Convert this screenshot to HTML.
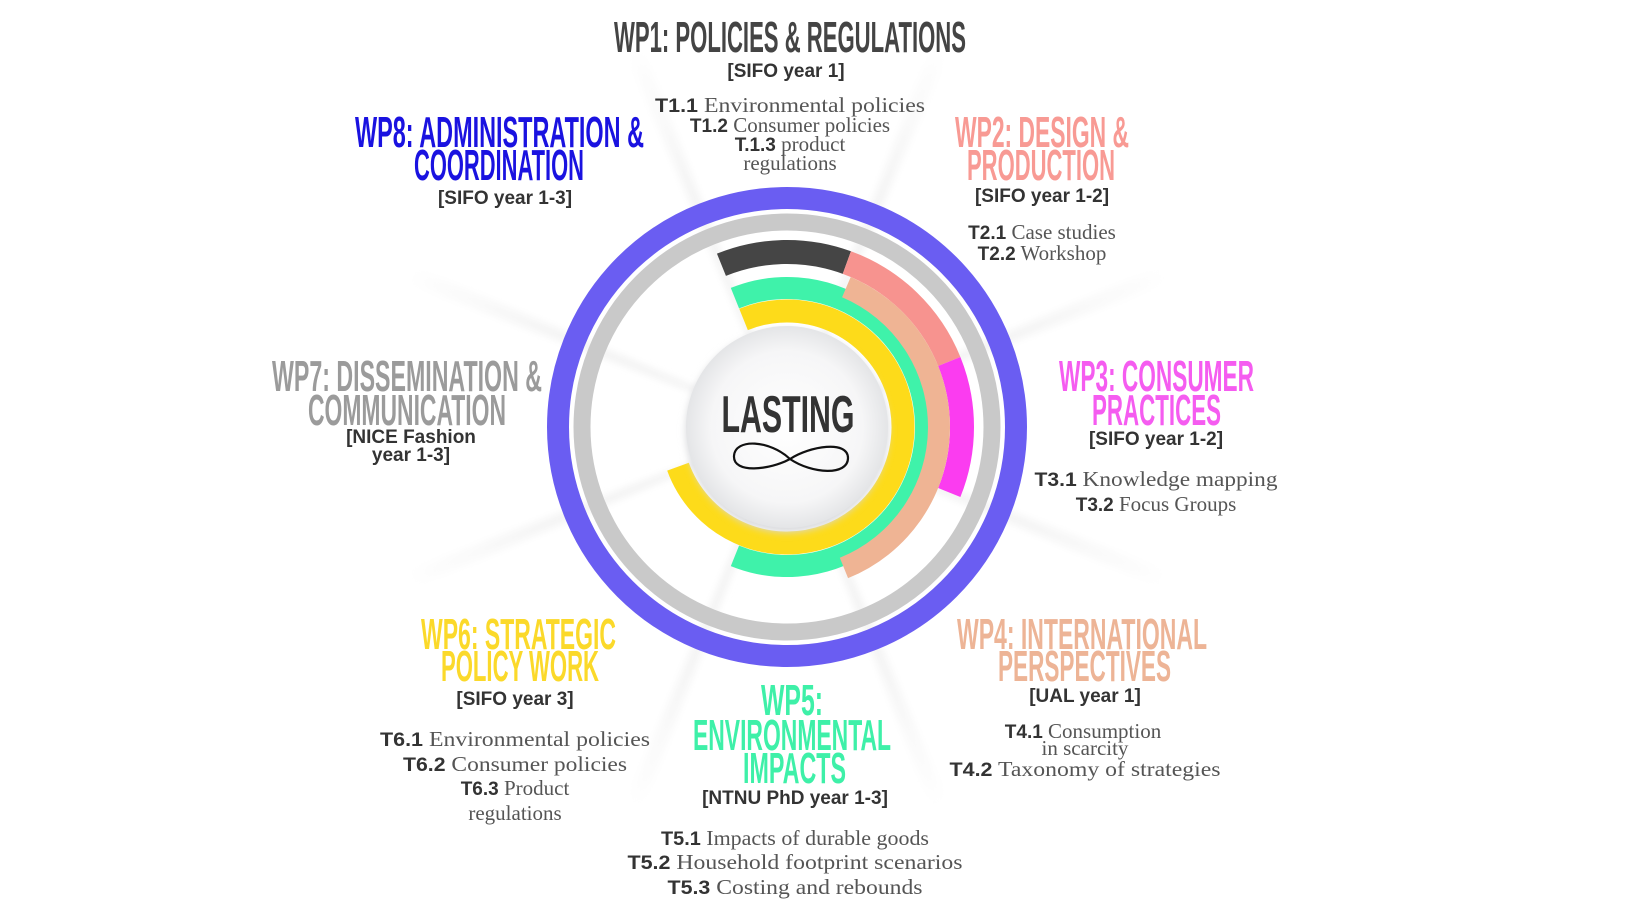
<!DOCTYPE html>
<html><head><meta charset="utf-8"><style>
html,body{margin:0;padding:0;background:#fff;}
svg{display:block;}
.t{font-family:"Liberation Sans Narrow","Liberation Sans",sans-serif;font-weight:bold;}
.b{font-family:"Liberation Sans",sans-serif;font-weight:bold;font-size:19px;fill:#333;}
.k{font-family:"Liberation Serif","DejaVu Serif",serif;font-size:21px;fill:#555;}
.k tspan.p{font-family:"Liberation Sans",sans-serif;font-weight:bold;fill:#333;font-size:19px;}
</style></head><body>
<svg id="s" width="1634" height="904" viewBox="0 0 1634 904" xmlns="http://www.w3.org/2000/svg">
<defs>
<radialGradient id="cg" cx="50%" cy="50%" r="50%">
<stop offset="0" stop-color="#ffffff"/><stop offset="0.75" stop-color="#f6f6f7"/><stop offset="1" stop-color="#e4e5e7"/>
</radialGradient>
<radialGradient id="wg" gradientUnits="userSpaceOnUse" cx="787" cy="427" r="420">
<stop offset="0.2" stop-color="#e4e4e4"/><stop offset="0.6" stop-color="#eeeeee"/><stop offset="1" stop-color="#ffffff"/>
</radialGradient>
<filter id="sh" x="-30%" y="-30%" width="160%" height="160%"><feGaussianBlur stdDeviation="4"/></filter>
<filter id="bl" x="-20%" y="-20%" width="140%" height="140%"><feGaussianBlur stdDeviation="4"/></filter>
</defs>
<g id="wedges" filter="url(#bl)"></g>
<g id="rings"></g>
<circle cx="787" cy="431" r="101" fill="#d8d9dc" filter="url(#sh)"/>
<circle cx="787" cy="427" r="101" fill="url(#cg)"/>
<text x="788" y="432" class="t" font-size="52" fill="#333" text-anchor="middle" textLength="133" lengthAdjust="spacingAndGlyphs">LASTING</text>
<path d="M790,459 C770,440 735,438 734,456 C733,474 770,470 790,459 C810,446 848,440 848,458 C848,476 812,474 790,459 Z" fill="none" stroke="#111" stroke-width="2.2"/>

<!-- WP1 -->
<text x="614" y="52" class="t" font-size="44" fill="#444" textLength="352" lengthAdjust="spacingAndGlyphs">WP1: POLICIES &amp; REGULATIONS</text>
<text x="786" y="77" class="b" text-anchor="middle">[SIFO year 1]</text>
<text x="790" y="112" class="k" text-anchor="middle" textLength="270" lengthAdjust="spacingAndGlyphs"><tspan class="p">T1.1</tspan> Environmental policies</text>
<text x="790" y="132" class="k" text-anchor="middle"><tspan class="p">T1.2</tspan> Consumer policies</text>
<text x="790" y="151" class="k" text-anchor="middle"><tspan class="p">T.1.3</tspan> product</text>
<text x="790" y="170" class="k" text-anchor="middle">regulations</text>

<!-- WP8 -->
<text x="355" y="147" class="t" font-size="44" fill="#1a12e0" textLength="289" lengthAdjust="spacingAndGlyphs">WP8: ADMINISTRATION &amp;</text>
<text x="414" y="180" class="t" font-size="44" fill="#1a12e0" textLength="170" lengthAdjust="spacingAndGlyphs">COORDINATION</text>
<text x="505" y="204" class="b" text-anchor="middle">[SIFO year 1-3]</text>

<!-- WP2 -->
<text x="955" y="147" class="t" font-size="44" fill="#f89a94" textLength="174" lengthAdjust="spacingAndGlyphs">WP2: DESIGN &amp;</text>
<text x="967" y="180" class="t" font-size="44" fill="#f89a94" textLength="148" lengthAdjust="spacingAndGlyphs">PRODUCTION</text>
<text x="1042" y="202" class="b" text-anchor="middle">[SIFO year 1-2]</text>
<text x="1042" y="239" class="k" text-anchor="middle"><tspan class="p">T2.1</tspan> Case studies</text>
<text x="1042" y="260" class="k" text-anchor="middle"><tspan class="p">T2.2</tspan> Workshop</text>

<!-- WP3 -->
<text x="1059" y="391" class="t" font-size="44" fill="#f55cf0" textLength="195" lengthAdjust="spacingAndGlyphs">WP3: CONSUMER</text>
<text x="1092" y="425" class="t" font-size="44" fill="#f55cf0" textLength="129" lengthAdjust="spacingAndGlyphs">PRACTICES</text>
<text x="1156" y="445" class="b" text-anchor="middle">[SIFO year 1-2]</text>
<text x="1156" y="486" class="k" text-anchor="middle" textLength="243" lengthAdjust="spacingAndGlyphs"><tspan class="p">T3.1</tspan> Knowledge mapping</text>
<text x="1156" y="511" class="k" text-anchor="middle"><tspan class="p">T3.2</tspan> Focus Groups</text>

<!-- WP4 -->
<text x="957" y="649" class="t" font-size="44" fill="#edb496" textLength="250" lengthAdjust="spacingAndGlyphs">WP4: INTERNATIONAL</text>
<text x="998" y="681" class="t" font-size="44" fill="#edb496" textLength="173" lengthAdjust="spacingAndGlyphs">PERSPECTIVES</text>
<text x="1085" y="702" class="b" text-anchor="middle">[UAL year 1]</text>
<text x="1083" y="738" class="k" text-anchor="middle"><tspan class="p">T4.1</tspan> Consumption</text>
<text x="1085" y="755" class="k" text-anchor="middle">in scarcity</text>
<text x="1085" y="776" class="k" text-anchor="middle" textLength="271" lengthAdjust="spacingAndGlyphs"><tspan class="p">T4.2</tspan> Taxonomy of strategies</text>

<!-- WP5 -->
<text x="761" y="715" class="t" font-size="44" fill="#3ef0a8" textLength="62" lengthAdjust="spacingAndGlyphs">WP5:</text>
<text x="693" y="750" class="t" font-size="44" fill="#3ef0a8" textLength="198" lengthAdjust="spacingAndGlyphs">ENVIRONMENTAL</text>
<text x="743" y="783" class="t" font-size="44" fill="#3ef0a8" textLength="103" lengthAdjust="spacingAndGlyphs">IMPACTS</text>
<text x="795" y="804" class="b" text-anchor="middle">[NTNU PhD year 1-3]</text>
<text x="795" y="845" class="k" text-anchor="middle" textLength="268" lengthAdjust="spacingAndGlyphs"><tspan class="p">T5.1</tspan> Impacts of durable goods</text>
<text x="795" y="869" class="k" text-anchor="middle" textLength="335" lengthAdjust="spacingAndGlyphs"><tspan class="p">T5.2</tspan> Household footprint scenarios</text>
<text x="795" y="894" class="k" text-anchor="middle" textLength="255" lengthAdjust="spacingAndGlyphs"><tspan class="p">T5.3</tspan> Costing and rebounds</text>

<!-- WP6 -->
<text x="421" y="649" class="t" font-size="44" fill="#fbd92a" textLength="195" lengthAdjust="spacingAndGlyphs">WP6: STRATEGIC</text>
<text x="441" y="681" class="t" font-size="44" fill="#fbd92a" textLength="158" lengthAdjust="spacingAndGlyphs">POLICY WORK</text>
<text x="515" y="705" class="b" text-anchor="middle">[SIFO year 3]</text>
<text x="515" y="746" class="k" text-anchor="middle" textLength="270" lengthAdjust="spacingAndGlyphs"><tspan class="p">T6.1</tspan> Environmental policies</text>
<text x="515" y="771" class="k" text-anchor="middle" textLength="224" lengthAdjust="spacingAndGlyphs"><tspan class="p">T6.2</tspan> Consumer policies</text>
<text x="515" y="795" class="k" text-anchor="middle"><tspan class="p">T6.3</tspan> Product</text>
<text x="515" y="820" class="k" text-anchor="middle">regulations</text>

<!-- WP7 -->
<text x="272" y="391" class="t" font-size="44" fill="#9b9b9b" textLength="270" lengthAdjust="spacingAndGlyphs">WP7: DISSEMINATION &amp;</text>
<text x="308" y="425" class="t" font-size="44" fill="#9b9b9b" textLength="198" lengthAdjust="spacingAndGlyphs">COMMUNICATION</text>
<text x="411" y="443" class="b" text-anchor="middle">[NICE Fashion</text>
<text x="411" y="461" class="b" text-anchor="middle">year 1-3]</text>
</svg>
<script>
(function(){
var cx=787,cy=427,NS="http://www.w3.org/2000/svg";
function pt(r,a){var t=(a-90)*Math.PI/180;return [cx+r*Math.cos(t),cy+r*Math.sin(t)];}
function arc(r,a0,a1,w,col,g){
  var p0=pt(r,a0),p1=pt(r,a1),large=(a1-a0)>180?1:0;
  var e=document.createElementNS(NS,"path");
  e.setAttribute("d","M"+p0[0]+","+p0[1]+" A"+r+","+r+" 0 "+large+" 1 "+p1[0]+","+p1[1]);
  e.setAttribute("fill","none");e.setAttribute("stroke",col);e.setAttribute("stroke-width",w);
  g.appendChild(e);
}
var wg=document.getElementById("wedges");
[-22,22,68,112,158,202,248,292].forEach(function(a){
  var p1=pt(420,a-1.2),p2=pt(420,a+1.2);
  var e=document.createElementNS(NS,"polygon");
  e.setAttribute("points",cx+","+cy+" "+p1[0]+","+p1[1]+" "+p2[0]+","+p2[1]);
  e.setAttribute("fill","url(#wg)");e.setAttribute("opacity","0.7");wg.appendChild(e);
});
var g=document.getElementById("rings");
function circ(r,w,col){var c=document.createElementNS(NS,"circle");c.setAttribute("cx",cx);c.setAttribute("cy",cy);c.setAttribute("r",r);c.setAttribute("fill","none");c.setAttribute("stroke",col);c.setAttribute("stroke-width",w);g.appendChild(c);}
circ(229,22,"#6a5df2");
circ(205,17,"#c9c9c9");
arc(175,-22,20,24,"#454545",g);
arc(175,20,68,24,"#f7938f",g);
arc(175,68,112,24,"#fb3cf0",g);
arc(139,-22,202,22,"#3ff2aa",g);
arc(152,23,158,22,"#efb494",g);
arc(116,-22,250,23,"#fddb1a",g);
})();
</script>
</body></html>
